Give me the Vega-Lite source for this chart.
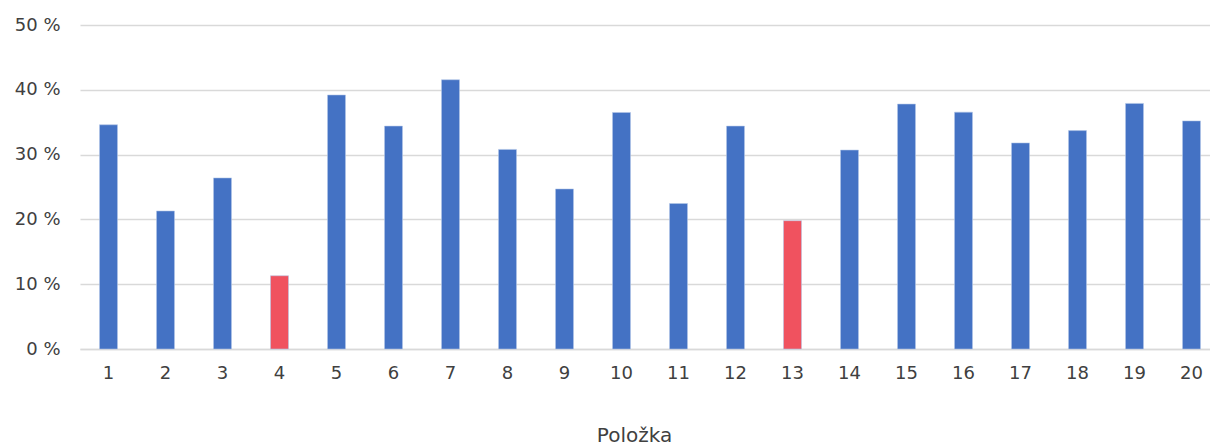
{
  "$schema": "https://vega.github.io/schema/vega-lite/v6.json",
  "autosize": {"type": "none"},
  "padding": {"left": 80, "top": 25, "right": 0, "bottom": 99},
  "width": 1130,
  "height": 324,
  "background": "white",
  "config": {
    "view": {"stroke": null},
    "font": "DejaVu Sans"
  },
  "data": {
    "values": [
      {"item": "1", "value": 34.6, "group": "normal"},
      {"item": "2", "value": 21.3, "group": "normal"},
      {"item": "3", "value": 26.4, "group": "normal"},
      {"item": "4", "value": 11.3, "group": "highlight"},
      {"item": "5", "value": 39.2, "group": "normal"},
      {"item": "6", "value": 34.4, "group": "normal"},
      {"item": "7", "value": 41.55, "group": "normal"},
      {"item": "8", "value": 30.8, "group": "normal"},
      {"item": "9", "value": 24.7, "group": "normal"},
      {"item": "10", "value": 36.5, "group": "normal"},
      {"item": "11", "value": 22.45, "group": "normal"},
      {"item": "12", "value": 34.4, "group": "normal"},
      {"item": "13", "value": 19.8, "group": "highlight"},
      {"item": "14", "value": 30.7, "group": "normal"},
      {"item": "15", "value": 37.8, "group": "normal"},
      {"item": "16", "value": 36.55, "group": "normal"},
      {"item": "17", "value": 31.8, "group": "normal"},
      {"item": "18", "value": 33.7, "group": "normal"},
      {"item": "19", "value": 37.9, "group": "normal"},
      {"item": "20", "value": 35.2, "group": "normal"}
    ]
  },
  "mark": {"type": "bar", "size": 18, "stroke": "#b4c7e7", "strokeWidth": 0.7, "strokeOpacity": 0.8},
  "encoding": {
    "x": {
      "field": "item",
      "type": "ordinal",
      "sort": null,
      "scale": {"paddingInner": 0, "paddingOuter": 0, "range": [0, 1140]},
      "axis": {
        "title": "Položka",
        "titleFont": "DejaVu Sans",
        "titleFontSize": 20,
        "titleFontWeight": "normal",
        "titleColor": "#404040",
        "titleX": 554,
        "titleY": 92,
        "titleBaseline": "alphabetic",
        "titleAnchor": "middle",
        "labelAngle": 0,
        "labelFontSize": 18,
        "labelColor": "#404040",
        "labelPadding": 15,
        "ticks": false,
        "domain": true,
        "domainColor": "#d9d9d9",
        "domainWidth": 1.5
      }
    },
    "y": {
      "field": "value",
      "type": "quantitative",
      "scale": {"domain": [0, 50]},
      "axis": {
        "title": null,
        "values": [0, 10, 20, 30, 40, 50],
        "labelExpr": "datum.value + ' %'",
        "labelFontSize": 18,
        "labelColor": "#404040",
        "labelPadding": 20,
        "ticks": false,
        "domain": false,
        "grid": true,
        "gridColor": "#d9d9d9",
        "gridWidth": 1.5
      }
    },
    "color": {
      "field": "group",
      "type": "nominal",
      "scale": {"domain": ["normal", "highlight"], "range": ["#4472c4", "#f0525f"]},
      "legend": null
    }
  }
}
